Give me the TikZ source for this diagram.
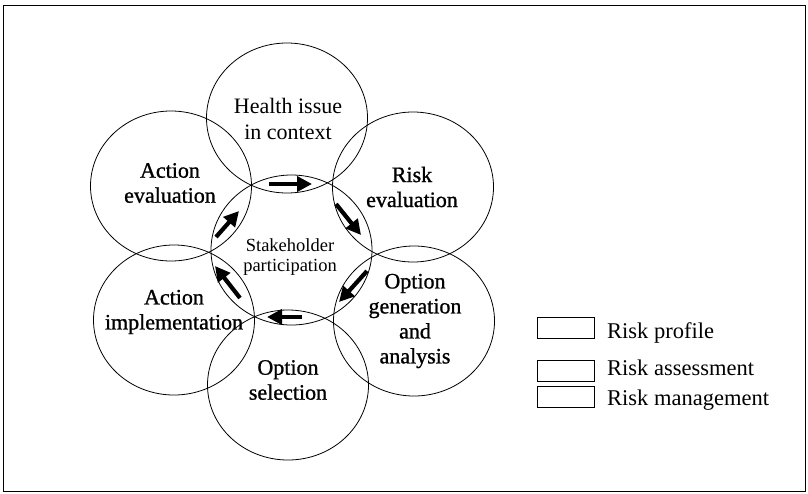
\documentclass[tikz,border=0pt]{standalone}
\usepackage{fontspec}
\setmainfont{Liberation Serif}
\newfontfamily\darkfont{Liberation Serif}[FakeBold=1]
\usetikzlibrary{shapes.geometric,arrows.meta}

\begin{document}
\begin{tikzpicture}[x=1pt,y=-1pt,
  stage/.style={draw,ellipse,line width=0.8pt,minimum width=161pt,minimum height=150pt,inner sep=0pt},
  stagetext/.style={align=center,inner sep=0pt,font=\darkfont\fontsize{22}{25}\selectfont},
  flow/.style={line width=4.2pt,-{Triangle[length=15pt,width=15pt]}},
  keybox/.style={draw,line width=0.8pt,minimum width=57pt,minimum height=21pt,inner sep=0pt},
  keytext/.style={anchor=west,inner sep=0pt,font=\fontsize{22.5}{26}\selectfont}]
\useasboundingbox (0,0) rectangle (808,493);
\draw[line width=0.8pt] (3.5,5) rectangle (805,491);
% the six stages round the hub
\node[stage] (health) at (287,118) {};
\node[stage] (riskeval) at (413,187) {};
\node[stage] (optgen) at (414,321) {};
\node[stage] (optsel) at (288,385) {};
\node[stage] (actimpl) at (174,320) {};
\node[stage] (acteval) at (171,186) {};
\node[stage] (hub) at (291.5,250) {};
\node[stagetext,font=\fontsize{22}{26}\selectfont] (healthtext) at (288,119) {Health issue\\in context};
\node[stagetext] (riskevaltext) at (412,187) {Risk\\evaluation};
\node[stagetext] (optgentext) at (415,321) {Option\\generation\\and\\analysis};
\node[stagetext] (opteseltext) at (288,380) {Option\\selection};
\node[stagetext] (actimpltext) at (174,312) {Action\\implementation};
\node[stagetext] (actevaltext) at (170,183) {Action\\evaluation};
\node[stagetext,font=\fontsize{18.5}{20}\selectfont] (hubtext) at (290,257) {Stakeholder\\participation};
% arrows in the overlaps
\coordinate (t1) at (269,184); \coordinate (h1) at (312,184);
\coordinate (t2) at (336,204); \coordinate (h2) at (361,235);
\coordinate (t3) at (367,271); \coordinate (h3) at (339,302);
\coordinate (t4) at (302,317); \coordinate (h4) at (267,317);
\coordinate (t5) at (240,298); \coordinate (h5) at (215,266);
\coordinate (t6) at (216,237); \coordinate (h6) at (239,211);
\draw[flow] (t1) -- (h1);
\draw[flow] (t2) -- (h2);
\draw[flow] (t3) -- (h3);
\draw[flow] (t4) -- (h4);
\draw[flow] (t5) -- (h5);
\draw[flow] (t6) -- (h6);
% key
\node[keybox] (profbox) at (565.5,327.5) {};
\node[keybox] (assessbox) at (565.5,371) {};
\node[keybox] (managebox) at (565.5,396.5) {};
\node[keytext] (proftext) at (607,333) {Risk profile};
\node[keytext] (assesstext) at (607,368) {Risk assessment};
\node[keytext] (managetext) at (607,400) {Risk management};
\end{tikzpicture}
\end{document}
